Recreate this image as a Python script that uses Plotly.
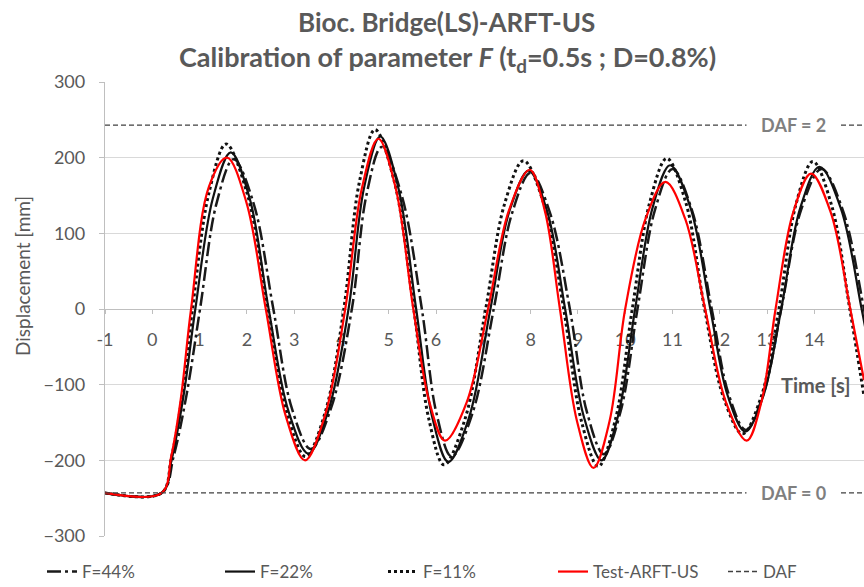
import plotly.graph_objects as go

# ---------------- data ----------------
t_f44 = [-1, 0.2, 0.45, 0.72, 1.01, 1.36, 1.72, 2.14, 2.56, 2.95, 3.35, 3.78, 4.22, 4.53, 4.85,
         5.27, 5.70, 6.01, 6.33, 6.77, 7.22, 7.61, 8.00, 8.41, 8.83, 9.19, 9.55, 9.90, 10.26,
         10.63, 11.00, 11.41, 11.83, 12.19, 12.55, 12.92, 13.30, 13.72, 14.15, 14.60, 15.05, 15.35]
y_f44 = [-243, -243, -195, -115, 0, 140, 198, 140, 0, -131, -185, -131, 0, 151, 214,
         151, 0, -138, -195, -138, 0, 127, 180, 127, 0, -136, -192, -136, 0,
         131, 185, 131, 0, -113, -160, -113, 0, 131, 185, 131, 0, -100]

t_f22 = [-1, 0.2, 0.42, 0.66, 0.91, 1.28, 1.66, 2.06, 2.46, 2.88, 3.30, 3.72, 4.15, 4.48, 4.82,
         5.20, 5.58, 5.92, 6.26, 6.70, 7.15, 7.55, 7.96, 8.35, 8.73, 9.12, 9.50, 9.85, 10.21,
         10.58, 10.95, 11.38, 11.80, 12.17, 12.54, 12.92, 13.30, 13.70, 14.11, 14.56, 15.00, 15.30]
y_f22 = [-243, -243, -195, -115, 0, 146, 207, 146, 0, -135, -191, -135, 0, 161, 228,
         161, 0, -143, -202, -143, 0, 129, 183, 129, 0, -141, -200, -141, 0,
         134, 190, 134, 0, -115, -162, -115, 0, 133, 188, 133, 0, -100]

t_f11 = [-1, 0.2, 0.40, 0.62, 0.85, 1.20, 1.56, 2.00, 2.45, 2.85, 3.24, 3.65, 4.05, 4.38, 4.71,
         5.12, 5.53, 5.85, 6.17, 6.61, 7.05, 7.45, 7.85, 8.28, 8.70, 9.07, 9.43, 9.79, 10.15,
         10.52, 10.88, 11.28, 11.68, 12.08, 12.48, 12.87, 13.25, 13.61, 13.97, 14.36, 14.75, 15.05]
y_f11 = [-243, -243, -198, -120, 0, 154, 218, 154, 0, -138, -195, -138, 0, 168, 237,
         168, 0, -146, -206, -146, 0, 139, 196, 139, 0, -147, -208, -147, 0,
         141, 199, 141, 0, -117, -165, -117, 0, 138, 195, 138, 0, -115]

t_test = [-1, 0.2, 0.40, 0.60, 0.82, 1.20, 1.58, 1.99, 2.40, 2.82, 3.23, 3.65, 4.08, 4.43, 4.78,
          5.15, 5.52, 5.86, 6.19, 6.65, 7.10, 7.54, 7.98, 8.30, 8.62, 8.98, 9.33, 9.67, 10.00,
          10.43, 10.85, 11.27, 11.69, 12.13, 12.57, 12.88, 13.18, 13.55, 13.93, 14.35, 14.76, 15.05]
y_test = [-243, -243, -195, -120, 0, 162, 200, 141, 0, -141, -200, -141, 0, 159, 225,
          159, 0, -123, -174, -123, 0, 130, 184, 130, 0, -148, -210, -148, 0,
          119, 168, 119, 0, -123, -174, -123, 0, 127, 179, 127, 0, -94]

daf_values = [243, -243]
daf_labels = ["DAF = 2", "DAF = 0"]

x_range = [-1, 15.05]
y_range = [-300, 300]
x_ticks = list(range(-1, 15))
y_ticks = [300, 200, 100, 0, -100, -200, -300]

series_names = ["F=44%", "F=22%", "F=11%", "Test-ARFT-US", "DAF"]

# ---------------- figure ----------------
GRAY = "#595959"
FONT = "Lato"
W, H = 864, 587
ML, MR, MT, MB = 105, 0, 82, 51
PW, PH = W - ML - MR, H - MT - MB


def px_x(p):
    return (p - ML) / PW


def px_y(p):
    return (H - MB - p) / PH


fig = go.Figure()

fig.add_trace(go.Scatter(x=t_f44, y=y_f44, mode="lines", name=series_names[0], legend="legend",
                         line=dict(color="#1a1a1a", width=2.5, dash="14px,4px,3px,4px", shape="spline", smoothing=1)))
fig.add_trace(go.Scatter(x=t_f22, y=y_f22, mode="lines", name=series_names[1], legend="legend2",
                         line=dict(color="#111111", width=2.2, shape="spline", smoothing=1)))
fig.add_trace(go.Scatter(x=t_f11, y=y_f11, mode="lines", name=series_names[2], legend="legend3",
                         line=dict(color="#111111", width=3, dash="dot", shape="spline", smoothing=1)))
fig.add_trace(go.Scatter(x=t_test, y=y_test, mode="lines", name=series_names[3], legend="legend4",
                         line=dict(color="#ff0000", width=2.2, shape="spline", smoothing=1)))

daf_x, daf_y = [], []
for v in daf_values:
    daf_x += [x_range[0], x_range[1], None]
    daf_y += [v, v, None]
fig.add_trace(go.Scatter(x=daf_x, y=daf_y, mode="lines", name=series_names[4], legend="legend5",
                         line=dict(color="#404040", width=1.4, dash="5px,3px")))

for v, lab in zip(daf_values, daf_labels):
    fig.add_annotation(x=13.55, y=v, xref="x", yref="y",
                       text="&nbsp;&nbsp;&nbsp;" + lab + "&nbsp;&nbsp;&nbsp;",
                       showarrow=False, bgcolor="white",
                       font=dict(family=FONT, size=18, color="#7f7f7f", weight="bold"))

fig.add_annotation(x=14.02, y=-100, xref="x", yref="y", text="<b>Time [s]</b>", showarrow=False,
                   font=dict(family=FONT, size=20, color=GRAY))

# titles
fig.add_annotation(x=px_x(446), y=px_y(22), xref="paper", yref="paper", xanchor="center", yanchor="middle",
                   text="<b>Bioc. Bridge(LS)-ARFT-US</b>", showarrow=False,
                   font=dict(family=FONT, size=26, color=GRAY))
fig.add_annotation(x=px_x(447), y=px_y(58), xref="paper", yref="paper", xanchor="center", yanchor="middle",
                   text="<b>Calibration of parameter <i>F</i> (t<sub>d</sub>=0.5s ; D=0.8%)</b>", showarrow=False,
                   font=dict(family=FONT, size=27, color=GRAY))

fig.add_annotation(x=px_x(22), y=px_y(276), xref="paper", yref="paper", xanchor="center", yanchor="middle",
                   text="Displacement [mm]", textangle=-90, showarrow=False,
                   font=dict(family=FONT, size=19, color=GRAY))

legend_text_starts = [84, 262, 425, 595, 765]
legend_common = dict(orientation="h", y=px_y(572), xanchor="left", yanchor="middle",
                     font=dict(family=FONT, size=17, color=GRAY), bgcolor="rgba(0,0,0,0)")
legends = {}
for i, p in enumerate(legend_text_starts):
    key = "legend" if i == 0 else "legend%d" % (i + 1)
    legends[key] = dict(x=px_x(p - 42), **legend_common)

fig.update_layout(
    width=W, height=H,
    margin=dict(l=ML, r=MR, t=MT, b=MB, autoexpand=False),
    paper_bgcolor="white", plot_bgcolor="white",
    showlegend=True,
    xaxis=dict(range=x_range, tickvals=x_ticks, ticktext=[str(v) for v in x_ticks],
               showgrid=False, zeroline=False, showline=True, linecolor="#bfbfbf", linewidth=1.3,
               anchor="free", position=0.5, ticks="outside", ticklen=4, tickcolor="#bfbfbf",
               ticklabelstandoff=10, layer="below traces",
               tickfont=dict(family=FONT, size=18, color=GRAY)),
    yaxis=dict(range=y_range, tickvals=y_ticks, showgrid=True, gridcolor="#d9d9d9", gridwidth=1.3,
               zeroline=False, showline=True, linecolor="#bfbfbf", linewidth=1.3,
               ticks="outside", ticklen=5, tickcolor="#bfbfbf", ticklabelstandoff=10,
               tickfont=dict(family=FONT, size=18, color=GRAY)),
    **legends,
)

fig.write_html("out.html")
